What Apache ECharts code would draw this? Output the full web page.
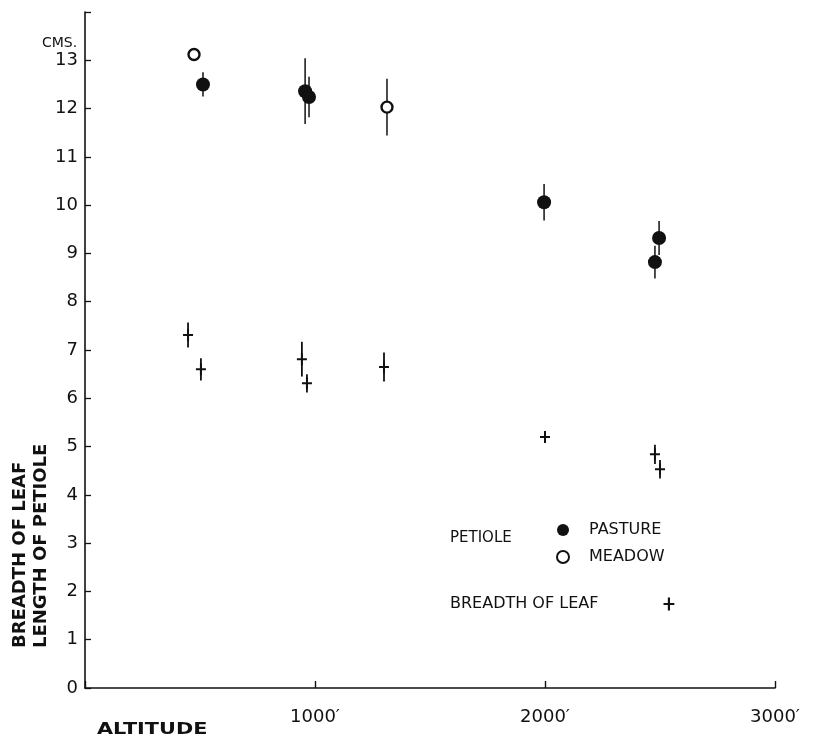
<!DOCTYPE html>
<html><head><meta charset="utf-8">
<script src="https://cdn.jsdelivr.net/npm/echarts@6/dist/echarts.min.js"></script>
<style>html,body{margin:0;padding:0;background:#fff}#c{width:817px;height:742px}</style>
</head><body><div id="c"></div>
<script>
// Petiole length, pasture (filled circles)
const pastureAlt = [513, 957, 974, 1996, 2496, 2478];
const pastureVal = [12.5, 12.36, 12.24, 10.06, 9.32, 8.82];
const pastureErr = [0.25, 0.68, 0.42, 0.38, 0.35, 0.34];
// Petiole length, meadow (open circles)
const meadowAlt = [474, 1313];
const meadowVal = [13.12, 12.03];
const meadowErr = [0, 0.59];
// Breadth of leaf (+)
const leafAlt = [448, 504, 943, 965, 1300, 2000, 2478, 2500];
const leafVal = [7.31, 6.6, 6.81, 6.31, 6.65, 5.2, 4.84, 4.53];
const leafErr = [0.26, 0.23, 0.36, 0.19, 0.3, 0.08, 0.2, 0.19];
const xTicks = [0, 1000, 2000, 3000];

const FONT = 'DejaVu Sans';
const zip = (a, b) => a.map((v, i) => [v, b[i]]);
const errData = (a, v, e) => a.map((x, i) => [x, v[i] - e[i], v[i] + e[i]]);
function errSeries(data, w) {
  return {
    type: 'custom', silent: true, z: 1,
    renderItem: function (params, api) {
      const p1 = api.coord([api.value(0), api.value(1)]);
      const p2 = api.coord([api.value(0), api.value(2)]);
      return { type: 'line', shape: { x1: p1[0], y1: p1[1], x2: p2[0], y2: p2[1] },
               style: { stroke: '#111', lineWidth: w } };
    },
    data: data
  };
}
const plusPath = 'path://M4,0h2v12h-2zM0,5h10v2h-10z';
const chart = echarts.init(document.getElementById('c'));
chart.setOption({
  animation: false,
  backgroundColor: '#fff',
  grid: { left: 85, right: 42, top: 12, bottom: 54 },
  xAxis: {
    type: 'value', min: 0, max: 3000, interval: 1000,
    axisLine: { lineStyle: { color: '#111', width: 1.6 } },
    axisTick: { inside: true, length: 7, lineStyle: { color: '#111', width: 1.4 } },
    splitLine: { show: false },
    axisLabel: { margin: 20, color: '#111', fontFamily: FONT, fontSize: 18,
      formatter: v => (v === 0 ? '' : v + '′') }
  },
  yAxis: {
    type: 'value', min: 0, max: 14, interval: 1,
    axisLine: { show: true, lineStyle: { color: '#111', width: 1.6 } },
    axisTick: { inside: true, length: 6, lineStyle: { color: '#111', width: 1.3 } },
    splitLine: { show: false },
    axisLabel: { margin: 7, color: '#111', fontFamily: FONT, fontSize: 18,
      formatter: v => (v === 14 ? '' : String(v)) }
  },
  legend: [
    { orient: 'vertical', left: 556, top: 522, padding: 0, itemGap: 11, itemWidth: 12, itemHeight: 12,
      data: ['PASTURE', 'MEADOW'],
      textStyle: { color: '#111', fontFamily: FONT, fontSize: 16, padding: [0, 0, 0, 15] } },
    { left: 450, top: 596, padding: 0, align: 'right', itemWidth: 11, itemHeight: 13,
      data: [{ name: 'BREADTH OF LEAF', icon: plusPath }],
      textStyle: { color: '#111', fontFamily: FONT, fontSize: 16, padding: [0, 60, 0, 0] } }
  ],
  graphic: [
    { type: 'text', left: 42, top: 36, style: { text: 'CMS.', fill: '#111', font: '14px "DejaVu Sans"' } },
    { type: 'text', left: 450, top: 531, style: { text: 'PETIOLE', fill: '#111', font: '15px "DejaVu Sans"' } },
    { type: 'text', x: 97, y: 730, scaleX: 1.3,
      style: { text: 'ALTITUDE', fill: '#111', font: 'bold 16px "DejaVu Sans"', textAlign: 'left', textVerticalAlign: 'middle' } },
    { type: 'text', x: 20, y: 648, rotation: Math.PI / 2,
      style: { text: 'BREADTH OF LEAF', fill: '#111', font: 'bold 18px "DejaVu Sans"', textAlign: 'left', textVerticalAlign: 'middle' } },
    { type: 'text', x: 41, y: 648, rotation: Math.PI / 2,
      style: { text: 'LENGTH OF PETIOLE', fill: '#111', font: 'bold 18px "DejaVu Sans"', textAlign: 'left', textVerticalAlign: 'middle' } }
  ],
  series: [
    errSeries(errData(pastureAlt, pastureVal, pastureErr), 1.5),
    errSeries(errData(meadowAlt, meadowVal, meadowErr), 1.5),
    errSeries(errData(leafAlt, leafVal, leafErr), 1.8),
    { name: 'PASTURE', type: 'scatter', symbol: 'circle', symbolSize: 14, z: 3,
      itemStyle: { color: '#111', opacity: 1 }, data: zip(pastureAlt, pastureVal) },
    { name: 'MEADOW', type: 'scatter', symbol: 'circle', symbolSize: 11, z: 3,
      itemStyle: { color: '#fff', borderColor: '#111', borderWidth: 2.4, opacity: 1 }, data: zip(meadowAlt, meadowVal) },
    { name: 'BREADTH OF LEAF', type: 'scatter', symbol: plusPath, symbolSize: [10, 12], z: 3,
      itemStyle: { color: '#111', opacity: 1 }, data: zip(leafAlt, leafVal) }
  ]
});
</script></body></html>
